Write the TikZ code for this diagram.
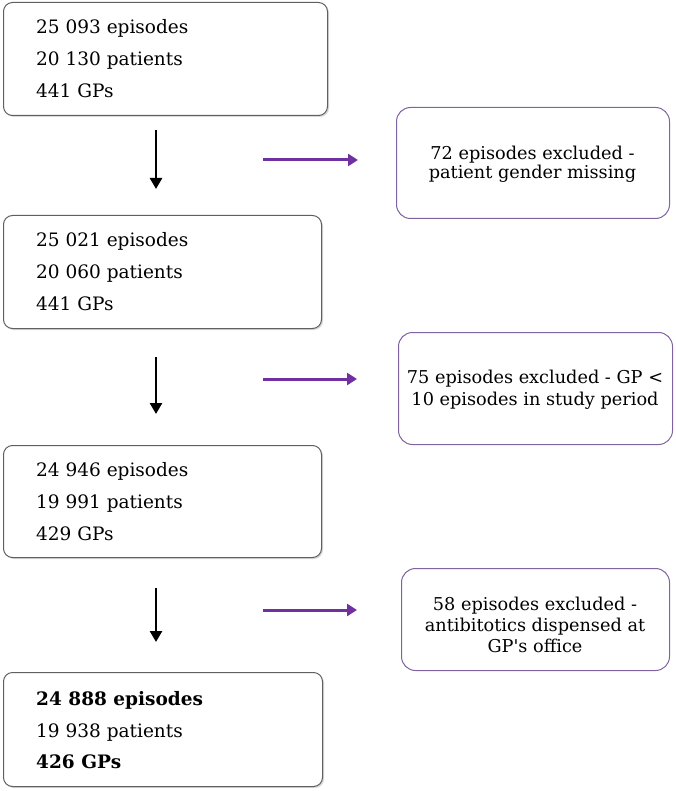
\documentclass[tikz,border=0pt]{standalone}
\usepackage{fontspec}
\setmainfont{DejaVu Serif}
\usetikzlibrary{arrows.meta,shadows}
\definecolor{arrpurple}{RGB}{112,48,160}
\definecolor{boxpurple}{RGB}{128,100,162}
\begin{document}
\begin{tikzpicture}[x=1pt,y=-1pt,
  leftbox/.style={draw=gray!75!black, line width=1pt, rounded corners=9pt, fill=white,
    drop shadow={shadow xshift=1.5pt, shadow yshift=-1.5pt, fill=gray!50, opacity=0.6},
    minimum width=#1, anchor=north west, inner sep=0pt},
  rightbox/.style={draw=boxpurple, line width=1pt, rounded corners=14pt, fill=white,
    anchor=north west, inner sep=0pt},
  rtxt/.style={align=center, font=\fontsize{17.7}{#1}\selectfont, inner sep=0pt},
  downarr/.style={line width=2.6pt, -{Triangle[length=11pt,width=12pt]}},
  sidearr/.style={line width=3pt, draw=arrpurple, -{Triangle[length=10pt,width=12pt]}},
  txt/.style={font=\fontsize{18.5}{20}\selectfont, anchor=base west, inner sep=0pt}]
\useasboundingbox (0,0) rectangle (675,791);
% left boxes
\node[leftbox=324pt, minimum height=113pt] (b1) at (3,2) {};
\node[leftbox=318pt, minimum height=113pt] (b2) at (3,215) {};
\node[leftbox=318pt, minimum height=112pt] (b3) at (3,445) {};
\node[leftbox=319pt, minimum height=114pt] (b4) at (3,672) {};
% texts
\node[txt] (t11) at (36,33.5) {25 093 episodes};
\node[txt] (t12) at (36,65.5) {20 130 patients};
\node[txt] (t13) at (36,98) {441 GPs};
\node[txt] (t21) at (36,246.5) {25 021 episodes};
\node[txt] (t22) at (36,278.5) {20 060 patients};
\node[txt] (t23) at (36,310.5) {441 GPs};
\node[txt] (t31) at (36,476) {24 946 episodes};
\node[txt] (t32) at (36,508) {19 991 patients};
\node[txt] (t33) at (36,540) {429 GPs};
\node[txt, font=\fontsize{18.5}{20}\selectfont\bfseries] (t41) at (36,705) {24 888 episodes};
\node[txt] (t42) at (36,737) {19 938 patients};
\node[txt, font=\fontsize{18.5}{20}\selectfont\bfseries] (t43) at (36,768.5) {426 GPs};
% right boxes
\node[rightbox, minimum width=273pt, minimum height=111pt] (r1) at (396,107) {};
\node[rtxt=19] (r1t) at (532.5,164) {72 episodes excluded -\\patient gender missing};
\node[rightbox, minimum width=274pt, minimum height=112pt] (r2) at (398,332) {};
\node[rtxt=22.5] (r2t) at (535,389.6) {75 episodes excluded - GP <\\10 episodes in study period};
\node[rightbox, minimum width=268pt, minimum height=102pt] (r3) at (401,568) {};
\node[rtxt=21] (r3t) at (535,625.3) {58 episodes excluded -\\antibitotics dispensed at\\GP\textquotesingle s office};
% arrows
\coordinate (d1s) at (156,130); \coordinate (d1e) at (156,189);
\coordinate (d2s) at (156,357); \coordinate (d2e) at (156,414);
\coordinate (d3s) at (156,588); \coordinate (d3e) at (156,642);
\draw[downarr] (d1s) -- (d1e);
\draw[downarr] (d2s) -- (d2e);
\draw[downarr] (d3s) -- (d3e);
\coordinate (s1s) at (263,160); \coordinate (s1e) at (358,160);
\coordinate (s2s) at (263,379); \coordinate (s2e) at (357,379);
\coordinate (s3s) at (263,610); \coordinate (s3e) at (357,610);
\draw[sidearr] (s1s) -- (s1e);
\draw[sidearr] (s2s) -- (s2e);
\draw[sidearr] (s3s) -- (s3e);
\end{tikzpicture}
\end{document}
